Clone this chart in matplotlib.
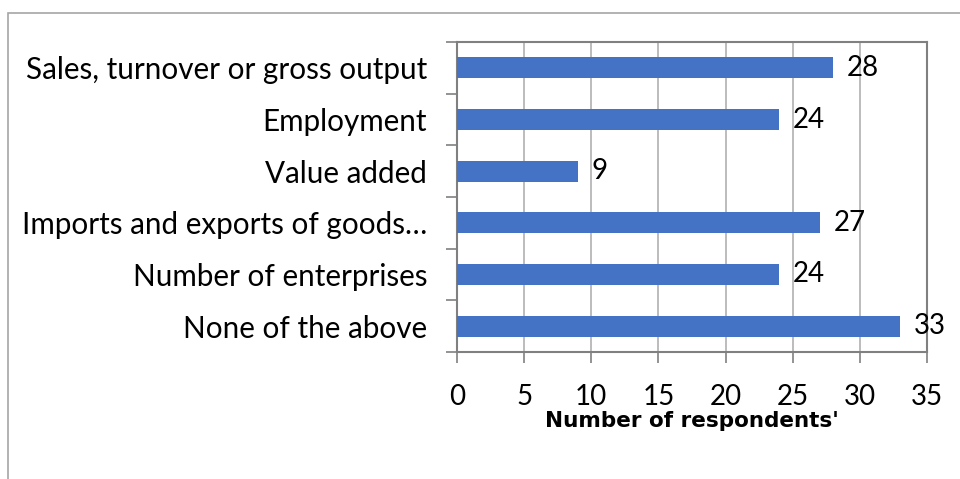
import matplotlib
matplotlib.use("Agg")
import matplotlib.pyplot as plt
from matplotlib.patches import Rectangle
import numpy as np

categories = ["Sales, turnover or gross output", "Employment", "Value added",
              "Imports and exports of goods\u2026", "Number of enterprises", "None of the above"]
values = [28, 24, 9, 27, 24, 33]
xticks = [0, 5, 10, 15, 20, 25, 30, 35]

plt.rcParams['font.family'] = ['Lato', 'DejaVu Sans']

fig = plt.figure(figsize=(9.6, 4.79), dpi=100)
W, H = 960, 479
ax = fig.add_axes([457 / W, 1 - 352 / H, (927 - 457) / W, (352 - 42) / H])

# outer chart border
fig.patches.append(Rectangle((8 / W, -0.1), 1.2, 1 - 13 / H + 0.1, transform=fig.transFigure,
                             fill=False, edgecolor='#a6a6a6', linewidth=1.2))

y = np.arange(len(categories))
ax.barh(y, values, height=0.41, color='#4472C4', zorder=3)
ax.set_ylim(len(categories) - 0.5, -0.5)
ax.set_xlim(0, 35)
ax.set_xticks(xticks)
ax.set_xticklabels([str(t) for t in xticks], fontsize=20)
ax.set_yticks(y)
ax.set_yticklabels(categories, fontsize=21.3)
ax.set_yticks(np.arange(-0.5, len(categories), 1), minor=True)
ax.tick_params(axis='y', which='major', length=0, pad=21.5)
ax.tick_params(axis='y', which='minor', length=8, color='#808080', width=1.2, direction='out')
ax.tick_params(axis='x', length=8, color='#808080', width=1.2, direction='out', pad=15)
ax.grid(axis='x', color='#b0b0b0', linewidth=1.2, zorder=0)
for s in ax.spines.values():
    s.set_color('#808080')
    s.set_linewidth(1.5)

for yi, v in zip(y, values):
    ax.annotate(str(v), (v, yi), xytext=(10, 0), textcoords='offset points',
                va='center', ha='left', fontsize=20, zorder=4)

ax.set_xlabel("Number of respondents'", fontsize=15.5, fontweight='bold',
              family=['DejaVu Sans'])
ax.xaxis.set_label_coords(0.5, (352 - 411) / 310)
ax.xaxis.label.set_va('top')

fig.savefig("out.png", dpi=100)
